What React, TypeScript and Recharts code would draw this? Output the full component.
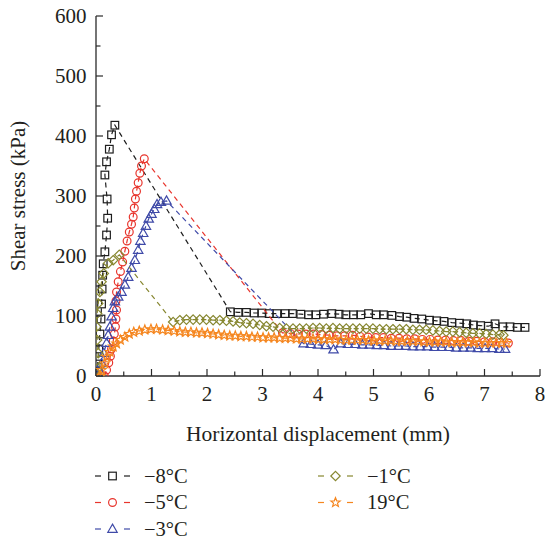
import React from 'react';
import { ScatterChart, Scatter, XAxis, YAxis, Label } from 'recharts';

type P = [number, number];

// −8°C (black squares)
const m8Data: P[] = [
  [0.01, 0], [0.03, 20], [0.05, 45], [0.07, 70], [0.09, 95], [0.1, 120], [0.11, 145], [0.12, 168],
  [0.13, 187], [0.16, 207], [0.19, 235], [0.21, 263], [0.2, 295], [0.16, 335], [0.19, 357], [0.24, 378],
  [0.28, 402], [0.34, 418],
  [2.42, 107], [2.56, 106], [2.71, 106], [2.85, 105], [2.99, 105], [3.12, 104], [3.26, 104], [3.41, 104],
  [3.54, 104], [3.69, 103], [3.83, 102], [3.96, 102], [4.1, 103], [4.25, 104], [4.38, 103], [4.5, 102],
  [4.64, 102], [4.77, 102], [4.91, 104], [5.05, 102], [5.18, 102], [5.33, 101], [5.47, 99], [5.6, 98],
  [5.73, 96], [5.87, 95], [6.01, 93], [6.14, 92], [6.27, 91], [6.41, 89], [6.55, 88], [6.68, 87],
  [6.8, 85], [6.93, 84], [7.07, 83], [7.19, 87], [7.33, 82], [7.46, 82], [7.59, 81], [7.73, 81],
];

// −5°C (red circles)
const m5Data: P[] = [
  [0.15, 0], [0.19, 10], [0.23, 22], [0.26, 33], [0.28, 45], [0.31, 58], [0.33, 70], [0.35, 82],
  [0.36, 95], [0.37, 110], [0.36, 125], [0.37, 140], [0.4, 157], [0.44, 174], [0.48, 190], [0.52, 208],
  [0.56, 225], [0.6, 240], [0.64, 253], [0.67, 265], [0.69, 280], [0.71, 295], [0.73, 308], [0.76, 322],
  [0.79, 338], [0.82, 350], [0.87, 362],
  [3.36, 72], [3.5, 71], [3.64, 70], [3.78, 70], [3.92, 70], [4.06, 69], [4.2, 68], [4.34, 67],
  [4.48, 67], [4.62, 68], [4.76, 66], [4.9, 65], [5.04, 64], [5.18, 64], [5.32, 63], [5.46, 63],
  [5.6, 62], [5.74, 62], [5.88, 61], [6.02, 61], [6.16, 60], [6.3, 60], [6.44, 59], [6.58, 59],
  [6.72, 58], [6.86, 58], [7.0, 57], [7.14, 57], [7.28, 56], [7.43, 55],
];

// −3°C (blue triangles)
const m3Data: P[] = [
  [0.05, 0], [0.07, 7], [0.1, 21], [0.14, 38], [0.19, 55], [0.22, 68], [0.25, 82], [0.28, 99],
  [0.31, 113], [0.34, 124], [0.4, 132], [0.46, 140], [0.52, 152], [0.58, 165], [0.64, 180], [0.7, 193],
  [0.76, 210], [0.8, 225], [0.85, 238], [0.9, 250], [0.95, 262], [1.0, 270], [1.05, 278], [1.1, 286],
  [1.17, 290], [1.27, 292],
  [3.74, 54], [3.87, 53], [4.0, 52], [4.14, 51], [4.28, 44], [4.41, 54], [4.54, 53], [4.67, 53],
  [4.8, 52], [4.93, 52], [5.06, 51], [5.19, 51], [5.32, 50], [5.45, 50], [5.58, 50], [5.71, 49],
  [5.84, 49], [5.97, 49], [6.1, 48], [6.23, 48], [6.36, 48], [6.49, 47], [6.62, 47], [6.75, 47],
  [6.88, 46], [7.01, 46], [7.14, 46], [7.27, 45], [7.37, 45],
];

// −1°C (olive diamonds)
const m1Data: P[] = [
  [0.06, 0], [0.06, 15], [0.04, 38], [0.02, 60], [0.01, 82], [0.02, 104], [0.04, 121], [0.07, 140],
  [0.1, 157], [0.14, 171], [0.22, 188], [0.31, 193], [0.42, 202],
  [1.39, 90], [1.51, 93], [1.63, 94], [1.75, 94], [1.87, 94], [1.99, 94], [2.11, 93], [2.23, 93],
  [2.35, 92], [2.47, 91], [2.59, 89], [2.71, 88], [2.83, 87], [2.95, 85], [3.07, 83], [3.19, 82],
  [3.31, 80], [3.43, 79], [3.55, 79], [3.67, 79], [3.79, 79], [3.91, 80], [4.03, 80], [4.15, 79],
  [4.27, 80], [4.39, 79], [4.51, 79], [4.63, 79], [4.75, 79], [4.87, 79], [4.99, 79], [5.11, 78],
  [5.23, 78], [5.35, 78], [5.47, 78], [5.59, 78], [5.71, 77], [5.83, 77], [5.95, 77], [6.07, 76],
  [6.19, 75], [6.31, 74], [6.43, 74], [6.55, 73], [6.67, 72], [6.79, 71], [6.91, 71], [7.03, 70],
  [7.15, 69], [7.27, 69], [7.34, 68],
];

// 19°C (orange stars)
const p19Data: P[] = [
  [0.08, 0], [0.1, 10], [0.16, 21], [0.19, 32], [0.25, 40], [0.31, 49], [0.37, 54], [0.44, 60],
  [0.52, 65], [0.6, 70], [0.68, 73], [0.78, 75], [0.88, 77], [0.99, 78], [1.09, 78], [1.2, 77],
  [1.3, 76], [1.41, 75], [1.51, 74], [1.61, 73], [1.71, 73], [1.81, 72], [1.91, 72], [2.01, 71],
  [2.11, 70], [2.21, 69], [2.31, 68], [2.41, 67], [2.51, 67], [2.61, 66], [2.71, 66], [2.81, 65],
  [2.91, 65], [3.01, 64], [3.11, 64], [3.21, 64], [3.31, 63], [3.41, 63], [3.51, 63], [3.61, 62],
  [3.71, 62], [3.81, 62], [3.91, 62], [4.01, 61], [4.11, 61], [4.21, 61], [4.31, 61], [4.41, 60],
  [4.51, 60], [4.61, 60], [4.71, 60], [4.81, 60], [4.91, 59], [5.01, 59], [5.11, 59], [5.21, 59],
  [5.31, 59], [5.41, 58], [5.51, 58], [5.61, 58], [5.71, 58], [5.81, 58], [5.91, 57], [6.01, 57],
  [6.11, 57], [6.21, 57], [6.31, 57], [6.41, 56], [6.51, 56], [6.61, 56], [6.71, 56], [6.81, 56],
  [6.91, 55], [7.01, 55], [7.11, 55], [7.21, 55], [7.31, 55], [7.4, 55],
];

const seriesNames = ['−8°C', '−5°C', '−3°C', '−1°C', '19°C'];
const seriesColors = ['#1e1e1e', '#e8352d', '#3f4aa8', '#878730', '#f5861f'];
const seriesShapes = ['square', 'circle', 'triangle', 'diamond', 'star'];
const seriesData = [m8Data, m5Data, m3Data, m1Data, p19Data];

const xTicks = [0, 0.5, 1, 1.5, 2, 2.5, 3, 3.5, 4, 4.5, 5, 5.5, 6, 6.5, 7, 7.5, 8];
const yTicks = [0, 50, 100, 150, 200, 250, 300, 350, 400, 450, 500, 550, 600];

const FONT = '"Liberation Serif", "Times New Roman", serif';
const TEXT = '#231f20';
const AXIS = '#2a2a2a';

function Marker({ kind, cx, cy, color }: { kind: string; cx: number; cy: number; color: string }) {
  const sw = 1.2;
  if (cx == null || cy == null || isNaN(cx) || isNaN(cy)) return null;
  switch (kind) {
    case 'square':
      return <rect x={cx - 3.8} y={cy - 3.8} width={7.6} height={7.6} fill="none" stroke={color} strokeWidth={sw} />;
    case 'circle':
      return <circle cx={cx} cy={cy} r={3.9} fill="none" stroke={color} strokeWidth={sw} />;
    case 'triangle':
      return (
        <polygon
          points={`${cx},${cy - 4.9} ${cx + 4.7},${cy + 3.3} ${cx - 4.7},${cy + 3.3}`}
          fill="none" stroke={color} strokeWidth={sw} strokeLinejoin="miter"
        />
      );
    case 'diamond':
      return (
        <polygon
          points={`${cx},${cy - 4.7} ${cx + 4.7},${cy} ${cx},${cy + 4.7} ${cx - 4.7},${cy}`}
          fill="none" stroke={color} strokeWidth={sw}
        />
      );
    case 'star': {
      const pts: string[] = [];
      for (let i = 0; i < 10; i++) {
        const r = i % 2 === 0 ? 4.9 : 2.1;
        const a = -Math.PI / 2 + (i * Math.PI) / 5;
        pts.push(`${cx + r * Math.cos(a)},${cy + r * Math.sin(a)}`);
      }
      return <polygon points={pts.join(' ')} fill="none" stroke={color} strokeWidth={sw} />;
    }
    default:
      return null;
  }
}

const XTick = (props: any) => {
  const { x, y, payload } = props;
  const v = payload.value as number;
  const major = Number.isInteger(v);
  return (
    <g>
      <line x1={x} x2={x} y1={y} y2={y - (major ? 7 : 4.5)} stroke={AXIS} strokeWidth={1.2} />
      {major && (
        <text x={x} y={y + 25} textAnchor="middle" fontSize={21} fontFamily={FONT} fill={TEXT}>
          {v}
        </text>
      )}
    </g>
  );
};

const YTick = (props: any) => {
  const { x, y, payload } = props;
  const v = payload.value as number;
  const major = v % 100 === 0;
  return (
    <g>
      <line x1={x} x2={x + (major ? 7 : 4.5)} y1={y} y2={y} stroke={AXIS} strokeWidth={1.2} />
      {major && (
        <text x={x - 9.5} y={y + 6.8} textAnchor="end" fontSize={21} fontFamily={FONT} fill={TEXT}>
          {v}
        </text>
      )}
    </g>
  );
};

const XLabel = (props: any) => {
  const vb = props.viewBox || {};
  return (
    <text x={vb.x + vb.width / 2} y={vb.y + 65} textAnchor="middle" fontSize={21.5} fontFamily={FONT} fill={TEXT}>
      Horizontal displacement (mm)
    </text>
  );
};

const YLabel = (props: any) => {
  const vb = props.viewBox || {};
  const cx = vb.x + 24.5;
  const cy = vb.y + vb.height / 2;
  return (
    <text
      x={cx} y={cy} textAnchor="middle" fontSize={21} fontFamily={FONT} fill={TEXT}
      transform={`rotate(-90, ${cx}, ${cy})`}
    >
      Shear stress (kPa)
    </text>
  );
};

const legendLayout = [
  { col: 0, row: 0 }, { col: 0, row: 1 }, { col: 0, row: 2 }, { col: 1, row: 0 }, { col: 1, row: 1 },
];

function LegendBox() {
  const colX = [95, 318];
  const rowY = [21, 47.5, 74];
  return (
    <svg width={545} height={86} style={{ position: 'absolute', left: 0, top: 455 }}>
      {seriesNames.map((name, i) => {
        const { col, row } = legendLayout[i];
        const x0 = colX[col];
        const y = rowY[row];
        const c = seriesColors[i];
        return (
          <g key={name}>
            <line x1={x0} x2={x0 + 6} y1={y} y2={y} stroke={c} strokeWidth={1.2} />
            <line x1={x0 + 29} x2={x0 + 35} y1={y} y2={y} stroke={c} strokeWidth={1.2} />
            <Marker kind={seriesShapes[i]} cx={x0 + 17.5} cy={y} color={c} />
            <text x={x0 + 49} y={y + 6.6} fontSize={20.5} fontFamily={FONT} fill={TEXT}>
              {name}
            </text>
          </g>
        );
      })}
    </svg>
  );
}

export default function App() {
  return (
    <div style={{ position: 'absolute', left: 0, top: 0, width: 545, height: 541, background: '#fff' }}>
      <ScatterChart width={545} height={541} margin={{ top: 16, right: 5, bottom: 0, left: 0 }}>
        <XAxis
          type="number"
          dataKey="x"
          domain={[0, 8]}
          ticks={xTicks}
          interval={0}
          height={165}
          tickSize={0}
          tickMargin={0}
          tickLine={false}
          tick={<XTick />}
          axisLine={{ stroke: AXIS, strokeWidth: 1.3 }}
          allowDataOverflow
        >
          <Label content={<XLabel />} />
        </XAxis>
        <YAxis
          type="number"
          dataKey="y"
          domain={[0, 600]}
          ticks={yTicks}
          interval={0}
          width={96}
          tickSize={0}
          tickMargin={0}
          tickLine={false}
          tick={<YTick />}
          axisLine={{ stroke: AXIS, strokeWidth: 1.3 }}
          allowDataOverflow
        >
          <Label content={<YLabel />} />
        </YAxis>
        {seriesData.map((d, i) => (
          <Scatter
            key={seriesNames[i]}
            name={seriesNames[i]}
            data={d.map(([x, y]) => ({ x, y }))}
            isAnimationActive={false}
            line={{ stroke: seriesColors[i], strokeWidth: 1.2, strokeDasharray: '5 4' }}
            lineType="joint"
            shape={(p: any) => <Marker kind={seriesShapes[i]} cx={p.cx} cy={p.cy} color={seriesColors[i]} />}
          />
        ))}
      </ScatterChart>
      <LegendBox />
    </div>
  );
}
